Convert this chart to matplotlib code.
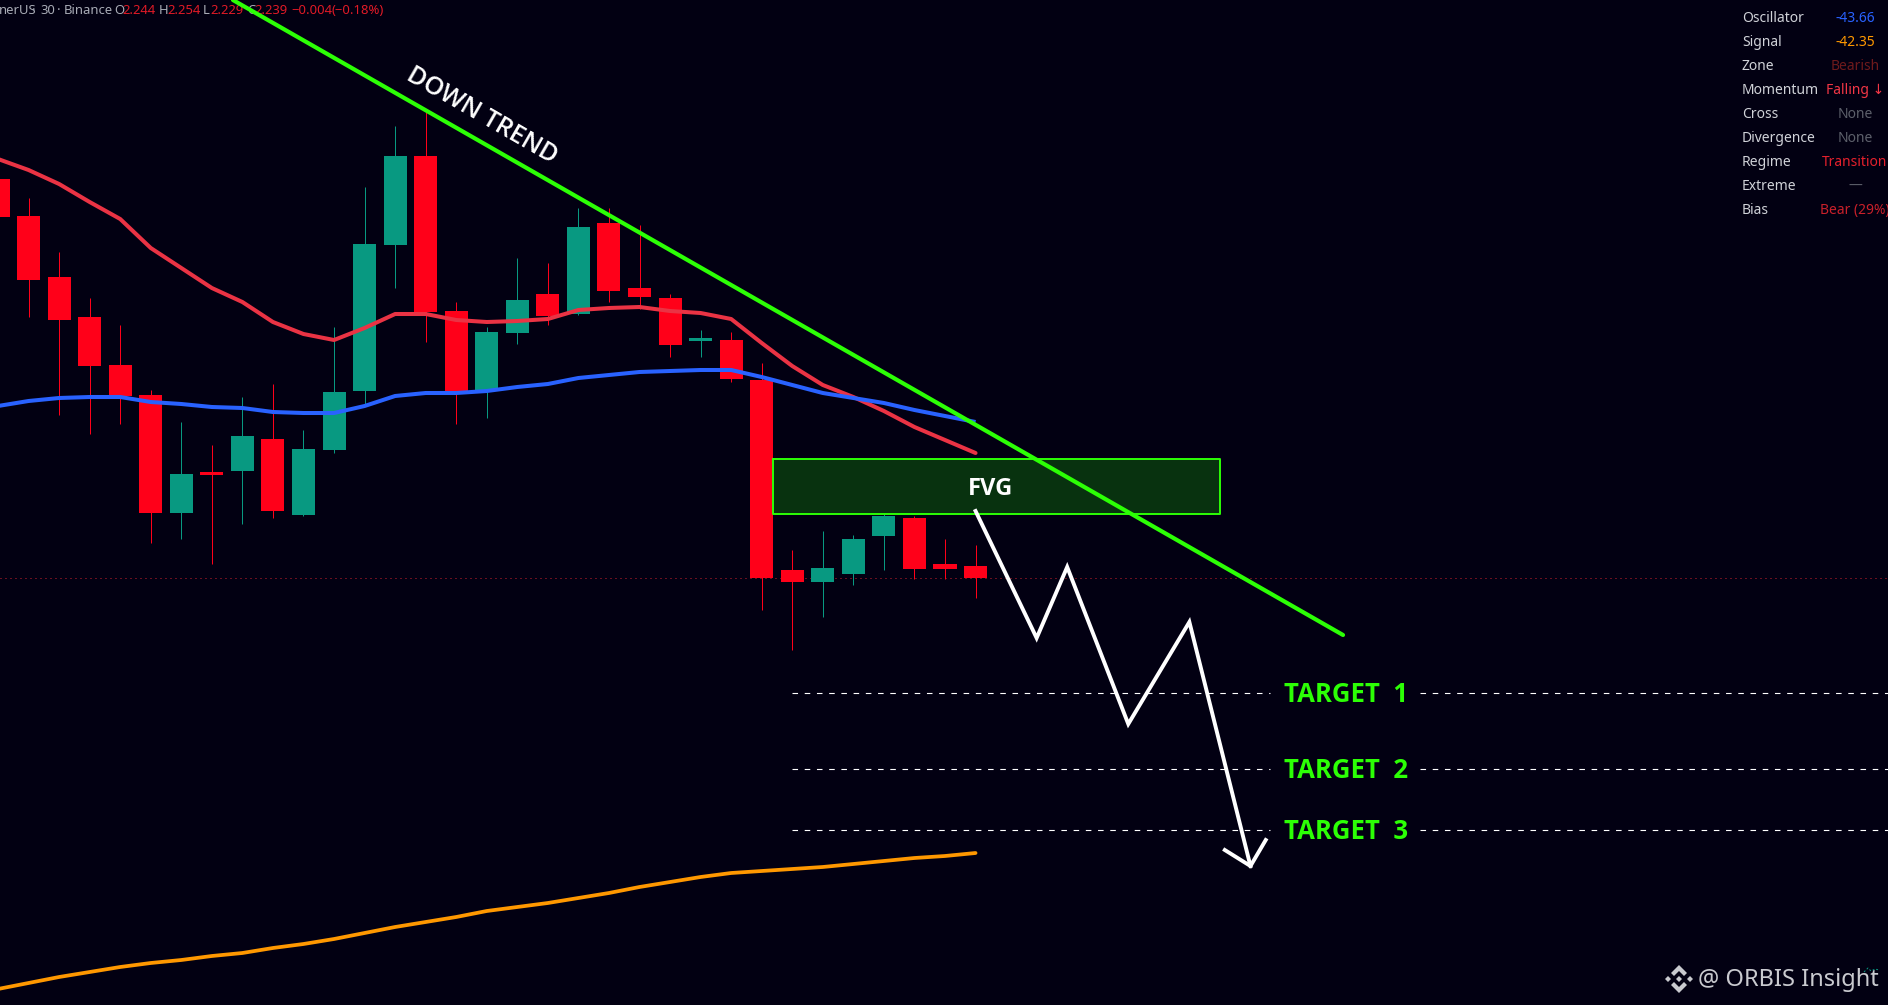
import matplotlib
matplotlib.use('Agg')
import matplotlib.pyplot as plt
import numpy as np

# prices, bar by bar
opens = [2.4385, 2.420, 2.3895, 2.3695, 2.3455, 2.3305, 2.2715, 2.292, 2.2925, 2.3085, 2.2705,
         2.303, 2.3325, 2.4055, 2.450, 2.3725, 2.3325, 2.3615, 2.381, 2.371, 2.4165, 2.384,
         2.379, 2.3575, 2.358, 2.338, 2.243, 2.237, 2.241, 2.260, 2.269, 2.246, 2.245]
closes = [2.4195, 2.388, 2.368, 2.345, 2.330, 2.2715, 2.291, 2.2905, 2.310, 2.2725, 2.3035,
          2.332, 2.406, 2.450, 2.372, 2.3325, 2.362, 2.378, 2.370, 2.4145, 2.3825, 2.3795,
          2.3555, 2.359, 2.3385, 2.239, 2.237, 2.244, 2.2585, 2.270, 2.2435, 2.2435, 2.239]
highs = [2.4385, 2.429, 2.402, 2.379, 2.3655, 2.333, 2.317, 2.3055, 2.3295, 2.336, 2.313,
         2.3645, 2.4345, 2.465, 2.472, 2.377, 2.3645, 2.399, 2.3965, 2.424, 2.424, 2.4155,
         2.381, 2.363, 2.362, 2.3465, 2.253, 2.2625, 2.2605, 2.271, 2.270, 2.2585, 2.2555]
lows = [2.4195, 2.3695, 2.3205, 2.311, 2.316, 2.2565, 2.2585, 2.246, 2.266, 2.269, 2.270,
        2.3015, 2.325, 2.384, 2.357, 2.316, 2.319, 2.356, 2.3655, 2.3705, 2.377, 2.3735,
        2.3495, 2.3495, 2.337, 2.223, 2.203, 2.2195, 2.2355, 2.243, 2.2385, 2.2385, 2.229]

ma_red = [2.4485, 2.443, 2.436, 2.427, 2.4185, 2.404, 2.394, 2.384, 2.377, 2.367, 2.361,
          2.358, 2.364, 2.371, 2.371, 2.368, 2.367, 2.3675, 2.3685, 2.373, 2.374, 2.3745,
          2.3725, 2.3715, 2.3685, 2.3565, 2.345, 2.3355, 2.3295, 2.3225, 2.3145, 2.308, 2.3015]
ma_blue = [2.325, 2.3275, 2.329, 2.3295, 2.3295, 2.327, 2.326, 2.3245, 2.324, 2.322, 2.3215,
           2.3215, 2.325, 2.330, 2.3315, 2.3315, 2.3325, 2.3345, 2.336, 2.339, 2.3405, 2.342,
           2.3425, 2.343, 2.343, 2.3395, 2.3355, 2.3315, 2.329, 2.3265, 2.323, 2.320, 2.317]
ma_orange = [2.0335, 2.0365, 2.0395, 2.042, 2.0445, 2.0465, 2.048, 2.050, 2.0515, 2.054, 2.056,
             2.0585, 2.0615, 2.0645, 2.067, 2.0695, 2.0725, 2.0745, 2.0765, 2.079, 2.0815, 2.0845,
             2.087, 2.0895, 2.0915, 2.0925, 2.0935, 2.0945, 2.096, 2.0975, 2.099, 2.100, 2.1015]

last_close = 2.239

# drawings on the chart
trend_bars = [7.69, 44.03]
trend_prices = [2.528, 2.2105]
fvg_bars = [25.37, 40.0]
fvg_prices = [2.271, 2.2985]
path_bars = [32, 34, 35, 37, 39, 41]
path_prices = [2.2725, 2.209, 2.2445, 2.166, 2.217, 2.095]
head_bars = [40.16, 41, 41.5]
head_prices = [2.103, 2.095, 2.108]
target_names = ['TARGET  1', 'TARGET  2', 'TARGET  3']
target_prices = [2.1815, 2.1435, 2.113]

header_texts = ['nerUS', '·', '30', '·', 'Binance', 'O', '2.244', 'H', '2.254', 'L', '2.229',
                'C', '2.239', '−0.004', '(−0.18%)']
header_xpix = [-1, 32, 40, 57, 64, 114, 122, 159, 167, 203, 210, 247, 254, 291, 331]
header_red = [0, 0, 0, 0, 0, 0, 1, 0, 1, 0, 1, 0, 1, 1, 1]

table_names = ['Oscillator', 'Signal', 'Zone', 'Momentum', 'Cross', 'Divergence', 'Regime',
               'Extreme', 'Bias']
table_values = ['-43.66', '-42.35', 'Bearish', 'Falling ↓', 'None', 'None', 'Transition', '—',
                'Bear (29%)']
table_colors = ['#2962ff', '#ff9800', '#6e1a1c', '#f23645', '#5d606b', '#5d606b', '#e5202c',
                '#5d606b', '#c9202a']

# tiny teal speck that shows through the watermark
speck_xpix = [1864, 1868, 1871, 1875, 1879]
speck_ypix = [972, 968, 971, 969, 970]

bg = '#020012'
red = '#ff0019'
green = '#089981'
lime = '#2cff05'
W, H = 1888, 1005


def fx(x):
    return x / W


def fy(y):
    return 1 - y / H


fig = plt.figure(figsize=(W / 100, H / 100), dpi=100, facecolor=bg)
ax = fig.add_axes([0, 0, 1, 1], facecolor=bg)
ax.set_xlim(0.065, 61.87)
ax.set_ylim(2.0255, 2.528)
ax.axis('off')

bars = np.arange(len(opens))
opens_a, closes_a = np.array(opens), np.array(closes)
colors = [red if c < o else green for o, c in zip(opens, closes)]

ax.axhline(last_close, color='#d0202c', lw=0.72, ls=(0, (1, 4)), zorder=1)
ax.vlines(bars, lows, highs, colors=colors, lw=0.72, zorder=2)
ax.bar(bars, np.abs(closes_a - opens_a) + 0.0001, bottom=np.minimum(opens_a, closes_a), width=0.755,
       color=colors, lw=0, zorder=3)

ax.plot(bars, ma_red, color='#ea3344', lw=2.9, zorder=4, solid_capstyle='round')
ax.plot(bars, ma_blue, color='#2962ff', lw=2.9, zorder=5, solid_capstyle='butt')
ax.plot(bars, ma_orange, color='#ff9800', lw=2.7, zorder=4, solid_capstyle='round')

# header goes under the trend line
for txt, xp, is_red in zip(header_texts, header_xpix, header_red):
    ax.text(fx(xp), fy(11), txt, transform=fig.transFigure, color='#e01a26' if is_red else '#a8abb5',
            fontsize=9.4, family='Noto Sans', va='center', ha='left', zorder=1)

ax.fill_between(fvg_bars, fvg_prices[0], fvg_prices[1], facecolor='#08320f', edgecolor='none', zorder=6)
ax.plot([fvg_bars[0], fvg_bars[1], fvg_bars[1], fvg_bars[0], fvg_bars[0]],
        [fvg_prices[1], fvg_prices[1], fvg_prices[0], fvg_prices[0], fvg_prices[1]],
        color=lime, lw=1.4, zorder=6)
ax.plot(trend_bars, trend_prices, color=lime, lw=3.0, zorder=7, solid_capstyle='round')
ax.plot(path_bars, path_prices, color='white', lw=2.8, zorder=8, solid_joinstyle='miter')
ax.plot(head_bars, head_prices, color='white', lw=2.8, zorder=8, solid_joinstyle='miter')

ax.text(32.5, 2.2835, 'FVG', color='white', fontsize=17, fontweight='bold', family='Open Sans',
        ha='center', va='center', zorder=9)
ax.text(fx(482), fy(116), 'DOWN TREND', transform=fig.transFigure, color='white', fontsize=18,
        fontweight=600, family='Open Sans', rotation=-30, rotation_mode='anchor', ha='center', va='center',
        zorder=9)

# dashed target levels, broken where the label sits
for name, price in zip(target_names, target_prices):
    ax.hlines(price, 26, 41.64, color='white', lw=0.8, ls=(0, (5, 6)), zorder=2)
    ax.hlines(price, 46.55, 61.87, color='white', lw=0.8, ls=(0, (5, 6)), zorder=2)
    ax.text(42.1, price - 0.0005, name, color=lime, fontsize=18.5, fontweight='bold', family='Open Sans',
            ha='left', va='center', zorder=9)

# status table top right
for i in range(len(table_names)):
    y = 18.5 + 24 * i
    ax.text(fx(1742), fy(y), table_names[i], transform=fig.transFigure, color='#d0d2d8', fontsize=10,
            family=['Noto Sans', 'DejaVu Sans'], va='center', ha='left', zorder=9)
    ax.text(fx(1855), fy(y), table_values[i], transform=fig.transFigure, color=table_colors[i], fontsize=10,
            family=['Noto Sans', 'DejaVu Sans'], va='center', ha='center', zorder=9)

# watermark and its logo
wm = '#c9cacf'
ax.text(fx(1698), fy(980), '@ ORBIS Insight', transform=fig.transFigure, color=wm, fontsize=17,
        family='Noto Sans', va='center', ha='left', zorder=9)
ax.plot([fx(v) for v in speck_xpix], [fy(v) for v in speck_ypix], color=green, lw=0.7,
        ls=(0, (2, 2)), transform=fig.transFigure, zorder=10)
logo_x = 1679
logo_y = 979
for dx, dy in [(0, 0), (-11, 0), (11, 0)]:
    ax.fill([fx(logo_x + dx - 3), fx(logo_x + dx), fx(logo_x + dx + 3), fx(logo_x + dx)],
            [fy(logo_y + dy), fy(logo_y + dy - 3), fy(logo_y + dy), fy(logo_y + dy + 3)],
            color=wm, lw=0, transform=fig.transFigure, zorder=9)
for s in [1, -1]:
    cx = [0, 8, 5, 0, -5, -8]
    cy = [-14, -6, -3, -8, -3, -6]
    ax.fill([fx(logo_x + c) for c in cx], [fy(logo_y + s * c) for c in cy],
            color=wm, lw=0, transform=fig.transFigure, zorder=9)

fig.savefig('out.png', dpi=100, facecolor=bg)
